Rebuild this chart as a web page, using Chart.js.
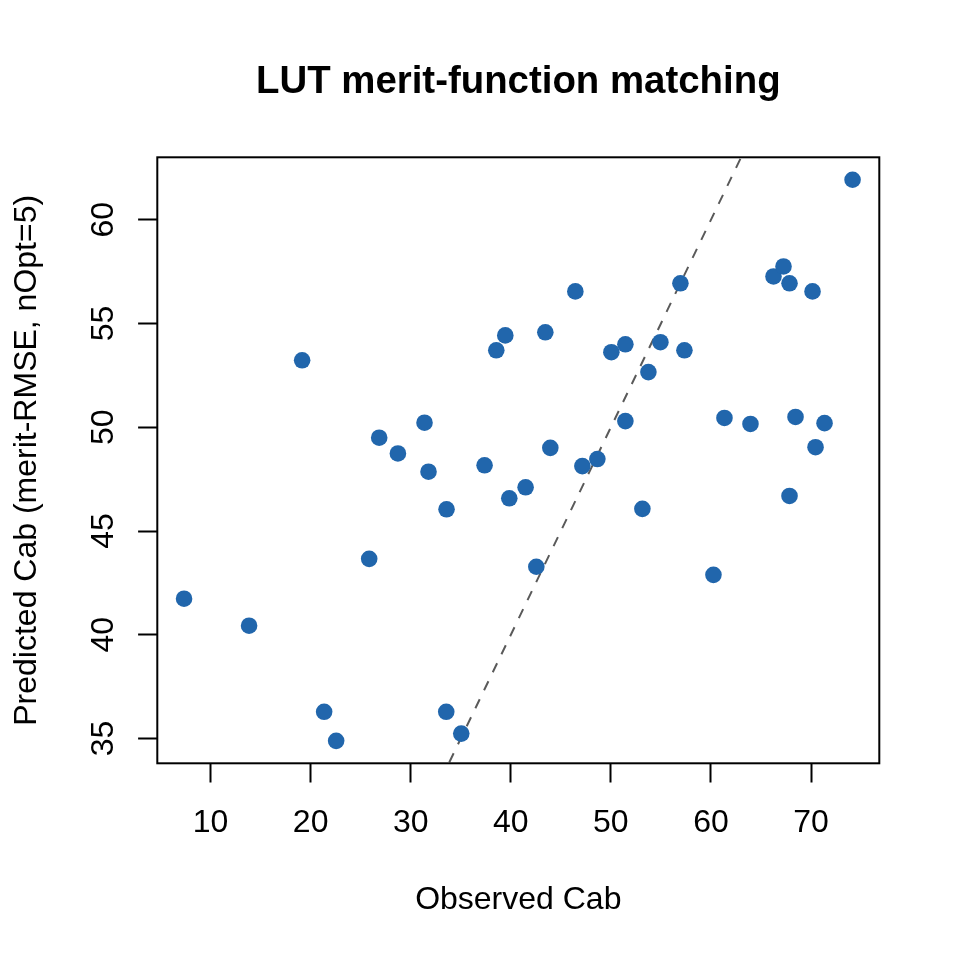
<!DOCTYPE html>
<html>
<head>
<meta charset="utf-8">
<script src="https://cdn.jsdelivr.net/npm/chart.js@4/dist/chart.umd.min.js"></script>
<style>
  html, body { margin: 0; padding: 0; background: #ffffff; }
  #wrap { width: 960px; height: 960px; }
</style>
</head>
<body>
<div id="wrap"><canvas id="c" width="960" height="960"></canvas></div>
<script>
// ---- data ----
const chartTitle = "LUT merit-function matching";
const xTitle = "Observed Cab";
const yTitle = "Predicted Cab (merit-RMSE, nOpt=5)";

const observedCab = [7.35, 13.85, 19.15, 21.35, 22.55, 25.85, 26.85, 28.72, 31.38, 31.78,
  33.58, 33.55, 35.05, 37.38, 38.55, 39.45, 39.85, 41.48, 42.55, 43.45,
  43.95, 46.45, 47.15, 48.65, 50.05, 51.45, 51.45, 53.15, 53.75, 54.95,
  56.95, 57.35, 60.25, 61.35, 63.95, 66.25, 67.25, 67.85, 67.85, 68.45,
  70.15, 70.45, 71.35, 74.15];
const predictedCab = [41.74, 40.44, 53.23, 36.29, 34.89, 43.66, 49.50, 48.74, 50.22, 47.86,
  46.05, 36.29, 35.24, 48.17, 53.71, 54.43, 46.58, 47.11, 43.28, 54.58,
  49.01, 56.55, 48.13, 48.47, 53.62, 54.00, 50.30, 46.07, 52.66, 54.10,
  56.94, 53.71, 42.89, 50.45, 50.16, 57.27, 57.75, 56.94, 46.69, 50.50,
  56.55, 49.04, 50.20, 61.93];
const xTicks = [10, 20, 30, 40, 50, 60, 70];
const yTicks = [35, 40, 45, 50, 55, 60];
const oneToOne = [0, 100];   // 1:1 reference line endpoints (y = x)

// ---- derived ranges (R style: data range extended by 4%) ----
function ext(a) {
  const lo = Math.min(...a), hi = Math.max(...a), d = (hi - lo) * 0.04;
  return [lo - d, hi + d];
}
const [xMin, xMax] = ext(observedCab);
const [yMin, yMax] = ext(predictedCab);

const FONT = "'Liberation Sans', Arial, Helvetica, sans-serif";
const PT_COLOR = "#2166AC";

const textPlugin = {
  id: 'rtext',
  afterDraw(chart) {
    const ctx = chart.ctx, a = chart.chartArea;
    const xs = chart.scales.x, ys = chart.scales.y;
    ctx.save();
    // box
    ctx.strokeStyle = '#000';
    ctx.lineWidth = 2;
    ctx.strokeRect(a.left, a.top, a.right - a.left, a.bottom - a.top);
    ctx.fillStyle = '#000';
    // title
    ctx.font = "bold 38.4px " + FONT;
    ctx.textAlign = 'center';
    ctx.textBaseline = 'alphabetic';
    ctx.fillText(chartTitle, (a.left + a.right) / 2, 93);
    // x tick labels
    ctx.font = "32px " + FONT;
    xTicks.forEach(v => ctx.fillText(String(v), xs.getPixelForValue(v), 832));
    // x title
    ctx.fillText(xTitle, (a.left + a.right) / 2, 909);
    // y tick labels (rotated)
    yTicks.forEach(v => {
      ctx.save();
      ctx.translate(113, ys.getPixelForValue(v));
      ctx.rotate(-Math.PI / 2);
      ctx.fillText(String(v), 0, 0);
      ctx.restore();
    });
    // y title
    ctx.save();
    ctx.translate(36, (a.top + a.bottom) / 2);
    ctx.rotate(-Math.PI / 2);
    ctx.fillText(yTitle, 0, 0);
    ctx.restore();
    ctx.restore();
  }
};

new Chart(document.getElementById('c'), {
  type: 'scatter',
  data: {
    datasets: [
      {
        label: 'points',
        data: observedCab.map((x, i) => ({ x: x, y: predictedCab[i] })),
        backgroundColor: PT_COLOR,
        borderColor: PT_COLOR,
        borderWidth: 0,
        pointRadius: 8.3,
        pointHoverRadius: 8.3,
        order: 1
      },
      {
        label: '1:1',
        type: 'line',
        data: oneToOne.map(v => ({ x: v, y: v })),
        borderColor: '#5a5a5a',
        borderWidth: 2,
        borderDash: [10, 10],
        pointRadius: 0,
        fill: false,
        order: 2
      }
    ]
  },
  options: {
    responsive: false,
    animation: false,
    devicePixelRatio: 1,
    layout: { padding: { left: 0, top: 157.3, right: 80.7, bottom: 0 } },
    plugins: {
      legend: { display: false },
      title: { display: false },
      tooltip: { enabled: false }
    },
    scales: {
      x: {
        type: 'linear',
        min: xMin, max: xMax,
        afterFit(s) { s.height = 196.7; },
        afterBuildTicks(s) { s.ticks = xTicks.map(v => ({ value: v })); },
        ticks: { display: false },
        border: { display: false },
        grid: { display: true, drawOnChartArea: false, drawTicks: true,
                tickLength: 19.2, tickWidth: 2, tickColor: '#000', color: '#000' }
      },
      y: {
        type: 'linear',
        min: yMin, max: yMax,
        afterFit(s) { s.width = 157.3; },
        afterBuildTicks(s) { s.ticks = yTicks.map(v => ({ value: v })); },
        ticks: { display: false },
        border: { display: false },
        grid: { display: true, drawOnChartArea: false, drawTicks: true,
                tickLength: 19.2, tickWidth: 2, tickColor: '#000', color: '#000' }
      }
    }
  },
  plugins: [textPlugin]
});
</script>
</body>
</html>
